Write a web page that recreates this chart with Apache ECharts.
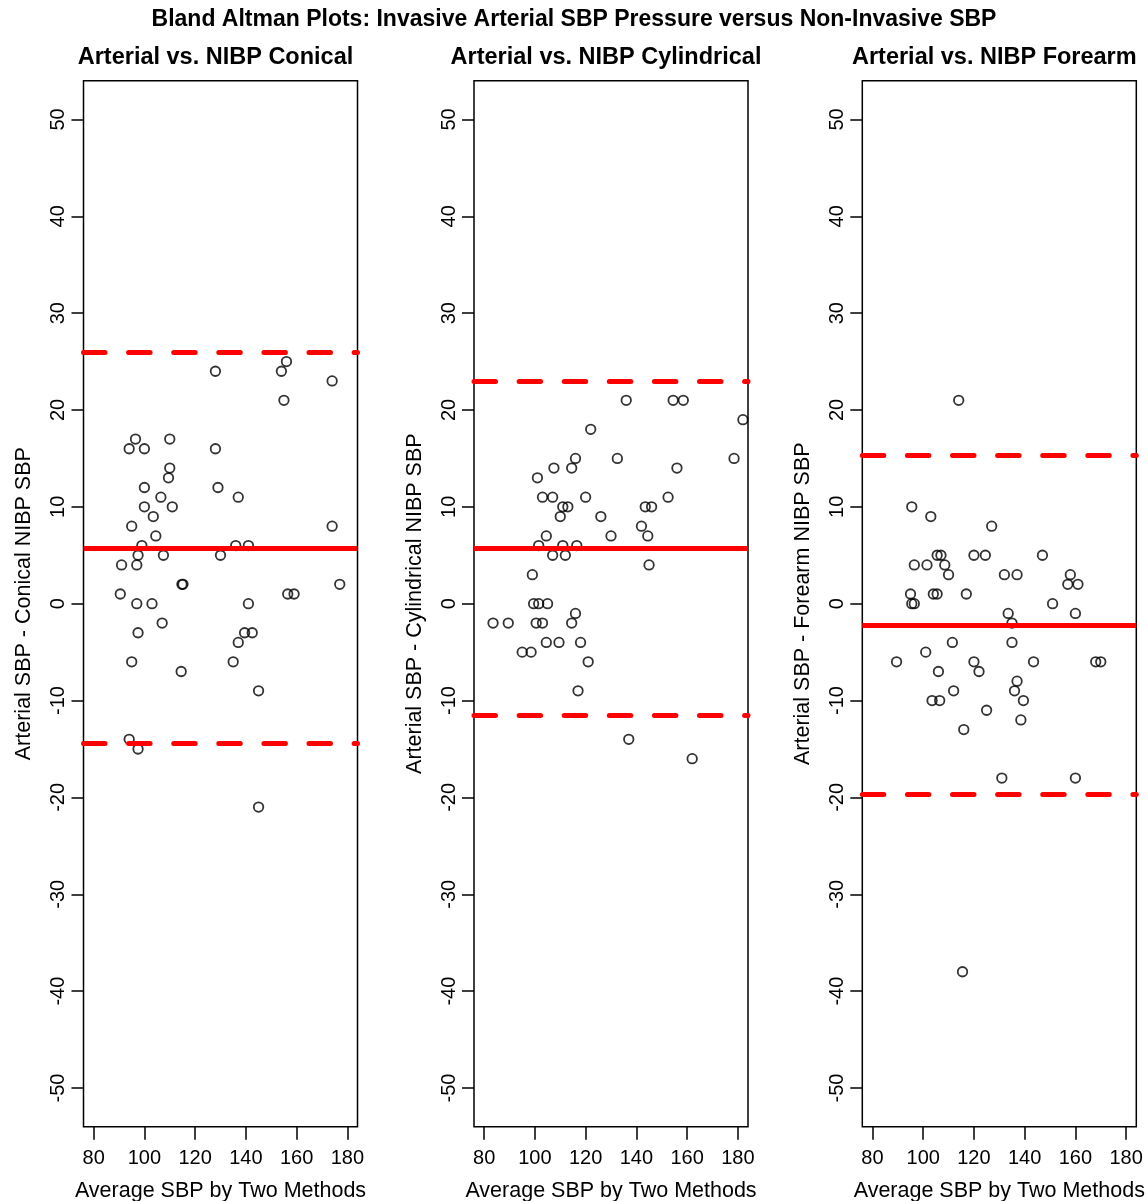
<!DOCTYPE html>
<html>
<head>
<meta charset="utf-8">
<script src="https://cdn.jsdelivr.net/npm/echarts@6/dist/echarts.min.js"></script>
<style>
  html, body { margin: 0; padding: 0; background: #fff; }
  #chart { width: 1148px; height: 1201px; }
</style>
</head>
<body>
<div id="chart"></div>
<script>
// values
var mainTitle = 'Bland Altman Plots: Invasive Arterial SBP Pressure versus Non-Invasive SBP'
var panelTitles = ['Arterial vs. NIBP Conical', 'Arterial vs. NIBP Cylindrical', 'Arterial vs. NIBP Forearm']
var yNames = ['Arterial SBP - Conical NIBP SBP', 'Arterial SBP - Cylindrical NIBP SBP', 'Arterial SBP - Forearm NIBP SBP']
var xName = 'Average SBP by Two Methods'

var xTicks = [80, 100, 120, 140, 160, 180]
var yTicks = [-50, -40, -30, -20, -10, 0, 10, 20, 30, 40, 50]

var conicalAvg = [128, 156, 154, 174, 155, 96.5, 110, 94, 100, 128, 110, 109.5, 100, 129, 106.5, 137, 100, 111, 103.5, 95,
  174, 104.5, 99, 136, 141, 97.5, 107.5, 130, 91, 97, 114.8, 115.2, 177, 90.5, 156.5, 159, 97, 103, 141, 107,
  97.5, 139.5, 142.5, 137, 95, 135, 114.5, 145, 94, 97.5, 145]
var conicalDiff = [24, 25, 24, 23, 21, 17, 17, 16, 16, 16, 14, 13, 12, 12, 11, 11, 10, 10, 9, 8,
  8, 7, 6, 6, 6, 5, 5, 5, 4, 4, 2, 2, 2, 1, 1, 1, 0, 0, 0, -2,
  -3, -3, -3, -4, -6, -6, -7, -9, -14, -15, -21]

var cylAvg = [136, 154.5, 158.5, 182, 122, 116, 132.5, 178.5, 107.5, 114.5, 156, 101, 103, 107, 120, 152.5, 111, 113, 143.5, 146,
  110, 126, 142, 104.5, 130, 144.5, 101.5, 111, 116.5, 107, 112, 145, 99, 99.5, 101.5, 105, 116, 83.5, 89.5, 100.5,
  103, 114.5, 104.5, 109.5, 118, 95, 98.5, 121, 117, 137, 162]
var cylDiff = [21, 21, 21, 19, 18, 15, 15, 15, 14, 14, 14, 13, 11, 11, 11, 11, 10, 10, 10, 10,
  9, 9, 8, 7, 7, 7, 6, 6, 6, 5, 5, 4, 3, 0, 0, 0, -1, -2, -2, -2,
  -2, -2, -4, -4, -4, -5, -5, -6, -9, -14, -16]

var forearmAvg = [114, 95.5, 103, 127, 105.5, 107, 120, 124.5, 147, 96.5, 101.5, 108.5, 110, 132, 137, 158, 157, 161, 95, 104,
  105.5, 117, 95.5, 96.5, 151, 133.5, 160, 135, 111.5, 135, 101, 89.5, 120, 143.5, 168, 170, 106, 122, 137, 112,
  136, 103.5, 106.5, 139.5, 125, 138.5, 116, 131, 160, 115.5]
var forearmDiff = [21, 10, 9, 8, 5, 5, 5, 5, 5, 4, 4, 4, 3, 3, 3, 3, 2, 2, 1, 1,
  1, 1, 0, 0, 0, -1, -1, -2, -4, -4, -5, -6, -6, -6, -6, -6, -7, -7, -8, -9,
  -9, -10, -10, -10, -11, -12, -13, -18, -18, -38]

// mean, upper limit, lower limit
var conicalLimits = [5.76, 25.96, -14.44]
var cylLimits = [5.72, 22.93, -11.54]
var forearmLimits = [-2.2, 15.29, -19.7]

var font = 'Liberation Sans, Arial, Helvetica, sans-serif'
var panels = [
  { left: 83.5, avg: conicalAvg, diff: conicalDiff, lim: conicalLimits },
  { left: 474, avg: cylAvg, diff: cylDiff, lim: cylLimits },
  { left: 862.3, avg: forearmAvg, diff: forearmDiff, lim: forearmLimits }
]
var gridTop = 80.7, gridW = 274, gridH = 1046

var chart = echarts.init(document.getElementById('chart'))

var grids = [], xAxes = [], yAxes = [], series = []
var graphics = [{
  type: 'text', x: 574, y: 19.5,
  style: { text: mainTitle, font: 'bold 23px ' + font, fill: '#000', align: 'center', verticalAlign: 'middle' }
}]

panels.forEach(function (p, i) {
  grids.push({ left: p.left, top: gridTop, width: gridW, height: gridH, show: true,
    containLabel: false, outerBoundsMode: 'none',
    borderColor: '#000', borderWidth: 1.5, backgroundColor: 'transparent' })

  graphics.push({
    type: 'text', x: p.left + gridW / 2 - 5, y: 57.5,
    style: { text: panelTitles[i], font: 'bold 23.5px ' + font, fill: '#000', align: 'center', verticalAlign: 'middle' }
  })

  xAxes.push({
    gridIndex: i, type: 'value', min: 76, max: 184,
    name: xName, nameLocation: 'middle', nameGap: 53,
    nameTextStyle: { fontFamily: font, fontSize: 21.5, color: '#000' },
    axisLine: { show: false, onZero: false },
    axisTick: { show: true, inside: false, length: 13, customValues: xTicks, lineStyle: { color: '#000', width: 1.5 } },
    axisLabel: { customValues: xTicks, margin: 22, fontFamily: font, fontSize: 20, color: '#000' },
    splitLine: { show: false }
  })

  yAxes.push({
    gridIndex: i, type: 'value', min: -54, max: 54,
    name: yNames[i], nameLocation: 'middle', nameGap: 48,
    nameTextStyle: { fontFamily: font, fontSize: 21.5, color: '#000' },
    axisLine: { show: false, onZero: false },
    axisTick: { show: true, inside: false, length: 12, customValues: yTicks, lineStyle: { color: '#000', width: 1.5 } },
    axisLabel: { customValues: yTicks, rotate: 90, margin: 15, fontFamily: font, fontSize: 20, color: '#000' },
    splitLine: { show: false }
  })

  series.push({
    type: 'scatter', xAxisIndex: i, yAxisIndex: i,
    symbol: 'circle', symbolSize: 9.5,
    itemStyle: { color: 'rgba(0,0,0,0)', borderColor: '#000', borderWidth: 1.8 },
    data: p.avg.map(function (x, k) { return [x, p.diff[k]] }),
    silent: true,
    markLine: {
      silent: true, symbol: 'none', animation: false,
      label: { show: false },
      data: [
        { yAxis: p.lim[0], lineStyle: { color: '#ff0000', width: 5, type: 'solid' } },
        { yAxis: p.lim[1], lineStyle: { color: '#ff0000', width: 5, type: [21.5, 23.6], cap: 'round' } },
        { yAxis: p.lim[2], lineStyle: { color: '#ff0000', width: 5, type: [21.5, 23.6], cap: 'round' } }
      ]
    }
  })
})

chart.setOption({
  animation: false,
  backgroundColor: '#fff',
  grid: grids,
  xAxis: xAxes,
  yAxis: yAxes,
  series: series,
  graphic: graphics
})
</script>
</body>
</html>
